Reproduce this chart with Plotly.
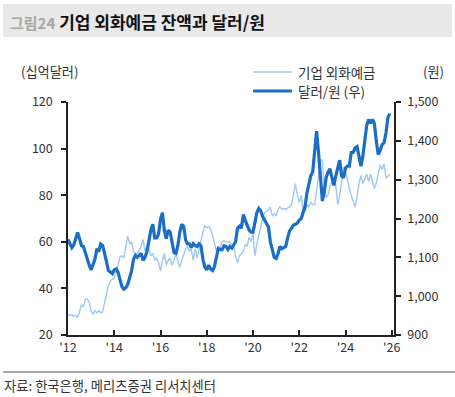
import pandas as pd
import plotly.graph_objects as go

months = pd.date_range("2012-01-01", periods=168, freq="MS")

# 기업 외화예금 (십억달러), monthly 2012-01 .. 2025-12
deposits = [
    28.6, 28.5, 28.8, 28.0, 28.3, 27.6, 30.0, 33.0, 32.0, 35.5, 35.5, 34.0,   # 2012
    30.0, 29.0, 30.5, 29.5, 30.5, 29.5, 30.0, 34.0, 38.0, 41.5, 43.0, 44.0,   # 2013
    44.5, 47.0, 50.0, 53.5, 54.0, 53.0, 58.0, 62.5, 59.0, 60.0, 56.0, 55.0,   # 2014
    55.0, 57.0, 58.0, 61.0, 56.0, 58.0, 57.0, 54.0, 55.0, 52.0, 53.0, 51.0,   # 2015
    47.5, 52.0, 55.0, 50.0, 52.0, 53.0, 50.0, 52.0, 55.0, 52.0, 49.0, 52.0,   # 2016
    55.0, 57.0, 58.0, 56.0, 57.0, 52.0, 57.0, 53.0, 57.0, 61.0, 64.0, 67.0,   # 2017
    66.0, 66.5, 65.5, 63.0, 60.0, 56.0, 58.0, 57.5, 60.0, 60.5, 60.0, 60.0,   # 2018
    59.8, 59.0, 58.0, 54.0, 51.0, 54.0, 55.0, 56.0, 59.0, 58.0, 62.0, 60.0,   # 2019
    63.5, 54.0, 59.0, 63.0, 67.0, 70.0, 72.5, 73.0, 73.5, 75.0, 71.0, 72.0,   # 2020
    71.0, 74.0, 75.0, 74.0, 74.3, 74.0, 74.5, 75.0, 76.0, 80.0, 85.0, 80.0,   # 2021
    77.0, 80.0, 74.0, 73.0, 76.0, 75.0, 77.0, 76.0, 76.0, 82.0, 88.0, 95.0,   # 2022
    95.0, 83.0, 79.0, 80.0, 84.0, 86.0, 87.0, 84.0, 76.0, 80.0, 86.0, 92.0,   # 2023
    90.0, 86.0, 83.0, 80.0, 77.0, 75.0, 79.0, 85.0, 88.5, 85.0, 87.0, 89.0,   # 2024
    86.0, 89.0, 86.0, 83.0, 85.0, 89.0, 93.0, 91.0, 93.5, 87.5, 88.0, 89.0,   # 2025
]

# 달러/원 (원), monthly 2012-01 .. 2025-12
usdkrw = [
    1146, 1135, 1125, 1132, 1150, 1164, 1148, 1130, 1128, 1110, 1092, 1080,   # 2012
    1068, 1080, 1095, 1122, 1115, 1134, 1130, 1110, 1090, 1066, 1062, 1058,   # 2013
    1068, 1070, 1062, 1040, 1025, 1018, 1022, 1030, 1045, 1065, 1095, 1105,   # 2014
    1100, 1105, 1110, 1092, 1100, 1115, 1145, 1170, 1185, 1150, 1150, 1160,   # 2015
    1198, 1215, 1170, 1148, 1170, 1165, 1140, 1112, 1110, 1130, 1165, 1185,   # 2016
    1180, 1145, 1135, 1135, 1125, 1135, 1130, 1128, 1135, 1130, 1095, 1075,   # 2017
    1068, 1080, 1070, 1066, 1075, 1100, 1122, 1120, 1120, 1130, 1128, 1120,   # 2018
    1128, 1124, 1130, 1140, 1175, 1180, 1175, 1210, 1195, 1185, 1170, 1165,   # 2019
    1165, 1190, 1215, 1226, 1220, 1205, 1195, 1185, 1178, 1140, 1115, 1100,   # 2020
    1097, 1110, 1128, 1122, 1125, 1128, 1150, 1168, 1175, 1183, 1185, 1188,   # 2021
    1196, 1200, 1215, 1230, 1265, 1290, 1310, 1320, 1385, 1425, 1370, 1300,   # 2022
    1245, 1270, 1305, 1320, 1328, 1305, 1285, 1310, 1330, 1350, 1310, 1305,   # 2023
    1330, 1335, 1335, 1370, 1370, 1382, 1385, 1355, 1335, 1360, 1395, 1440,   # 2024
    1455, 1445, 1455, 1445, 1400, 1365, 1375, 1390, 1395, 1420, 1460, 1470,   # 2025
]

tick_years = [2012, 2014, 2016, 2018, 2020, 2022, 2024, 2026]
tick_labels = ["'12", "'14", "'16", "'18", "'20", "'22", "'24", "'26"]
left_ticks = [20, 40, 60, 80, 100, 120]
right_ticks = [900, 1000, 1100, 1200, 1300, 1400, 1500]

name_dep = "기업 외화예금"
name_fx = "달러/원 (우)"

LIGHT = "#9dc9f2"
DARK = "#1a6ec6"
FONT = "Noto Sans CJK KR"
TXT = "#333333"

fig = go.Figure()
fig.add_trace(go.Scatter(x=months, y=deposits, name=name_dep, mode="lines",
                         line=dict(color=LIGHT, width=1.4), yaxis="y"))
fig.add_trace(go.Scatter(x=months, y=usdkrw, name=name_fx, mode="lines",
                         line=dict(color=DARK, width=3.2), yaxis="y2"))

W, H = 455, 397
L, R, T, B = 68, 61, 102, 62
pw, ph = W - L - R, H - T - B

def px(x):
    return (x - L) / pw

def py(y):
    return (H - B - y) / ph

fig.update_layout(
    width=W, height=H,
    margin=dict(l=L, r=R, t=T, b=B, autoexpand=False),
    paper_bgcolor="white", plot_bgcolor="white",
    showlegend=False,
    font=dict(family=FONT, size=12, color=TXT),
    xaxis=dict(
        type="date",
        range=["2012-01-01", "2026-02-05"],
        tickvals=[f"{y}-01-01" for y in tick_years],
        ticktext=tick_labels,
        ticks="inside", ticklen=5, tickwidth=1.5, tickcolor="#222",
        showline=True, linecolor="#222", linewidth=1.5,
        showgrid=False, zeroline=False,
        tickfont=dict(size=12.5, color=TXT),
    ),
    yaxis=dict(
        range=[20, 120], tickvals=left_ticks,
        ticks="outside", ticklen=5, tickwidth=1.5, tickcolor="#222",
        showline=True, linecolor="#222", linewidth=1.5,
        showgrid=False, zeroline=False,
        tickfont=dict(size=12.5, color=TXT),
        ticklabelstandoff=6,
    ),
    yaxis2=dict(
        range=[900, 1500], tickvals=right_ticks, tickformat=",",
        overlaying="y", side="right",
        ticks="outside", ticklen=5, tickwidth=1.5, tickcolor="#222",
        showline=True, linecolor="#222", linewidth=1.5,
        showgrid=False, zeroline=False,
        tickfont=dict(size=12.5, color=TXT),
        ticklabelstandoff=4,
    ),
)

shapes = [
    # title band
    dict(type="rect", xref="paper", yref="paper",
         x0=px(3), x1=px(452), y0=py(37), y1=py(4),
         fillcolor="#e9e9e9", line=dict(width=0), layer="below"),
    # separator above source
    dict(type="line", xref="paper", yref="paper",
         x0=px(3), x1=px(455), y0=py(372), y1=py(372),
         line=dict(color="#555", width=1)),
    # legend samples
    dict(type="line", xref="paper", yref="paper",
         x0=px(253), x1=px(292), y0=py(72), y1=py(72),
         line=dict(color=LIGHT, width=1.6)),
    dict(type="line", xref="paper", yref="paper",
         x0=px(253), x1=px(292), y0=py(91), y1=py(91),
         line=dict(color=DARK, width=3.2)),
]

annotations = [
    dict(text="<span style='color:#a6a6a6;font-size:15px'><b>그림24</b></span> <b>기업 외화예금 잔액과 달러/원</b>",
         xref="paper", yref="paper", x=px(8), y=py(21), xanchor="left", yanchor="middle",
         showarrow=False, font=dict(size=17, color="#111", family=FONT)),
    dict(text="(십억달러)", xref="paper", yref="paper", x=px(49), y=py(71),
         xanchor="center", yanchor="middle", showarrow=False, font=dict(size=13.2, color=TXT)),
    dict(text="(원)", xref="paper", yref="paper", x=px(433), y=py(71),
         xanchor="center", yanchor="middle", showarrow=False, font=dict(size=13.2, color=TXT)),
    dict(text=name_dep, xref="paper", yref="paper", x=px(296), y=py(72),
         xanchor="left", yanchor="middle", showarrow=False, font=dict(size=13.5, color=TXT)),
    dict(text=name_fx, xref="paper", yref="paper", x=px(296), y=py(91),
         xanchor="left", yanchor="middle", showarrow=False, font=dict(size=13.5, color=TXT)),
    dict(text="자료: 한국은행, 메리츠증권 리서치센터", xref="paper", yref="paper",
         x=px(2), y=py(385), xanchor="left", yanchor="middle", showarrow=False,
         font=dict(size=13.3, color=TXT)),
]

fig.update_layout(shapes=shapes, annotations=annotations)
fig.write_html("out.html", config={"displayModeBar": False})

# remove default page margin so the figure sits at the window's top-left
with open("out.html", encoding="utf-8") as f:
    html = f.read()
html = html.replace("<head>", "<head><style>html,body{margin:0;padding:0;overflow:hidden;}</style>", 1)
with open("out.html", "w", encoding="utf-8") as f:
    f.write(html)
